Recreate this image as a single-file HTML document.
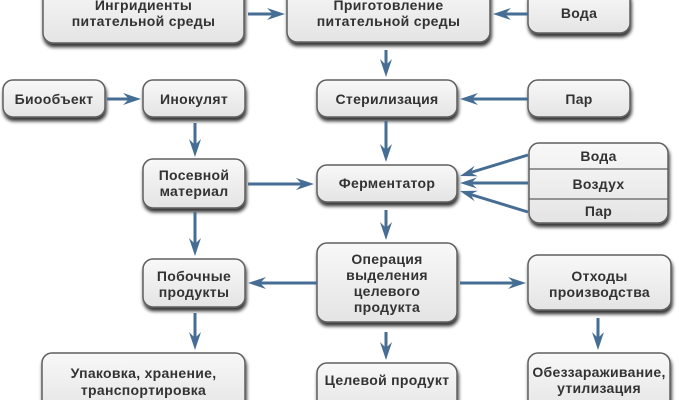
<!DOCTYPE html>
<html><head><meta charset="utf-8"><style>
html,body{margin:0;padding:0;background:#fff;}
svg{display:block;}
text{font-family:"Liberation Sans","DejaVu Sans",sans-serif;font-weight:bold;font-size:14px;fill:#333;letter-spacing:0.3px;}
</style></head><body>
<svg width="679" height="400" viewBox="0 0 679 400" xmlns="http://www.w3.org/2000/svg">
<defs>
<linearGradient id="g" x1="0" y1="0" x2="0" y2="1">
<stop offset="0" stop-color="#f8f8f8"/><stop offset="1" stop-color="#e4e4e4"/>
</linearGradient>
<filter id="sh" x="-20%" y="-20%" width="140%" height="150%">
<feGaussianBlur in="SourceAlpha" stdDeviation="1.8"/>
<feOffset dx="1" dy="3.5" result="b"/>
<feComponentTransfer><feFuncA type="linear" slope="0.8"/></feComponentTransfer>
<feMerge><feMergeNode/><feMergeNode in="SourceGraphic"/></feMerge>
</filter>
<g id="ah"><path d="M0,0 L-18,-6 L-12,0 L-18,6 Z" fill="#466d93"/></g>
<g id="ah2"><path d="M0,0 L-17,-5.5 L-11,0 L-17,5.5 Z" fill="#466d93"/></g>
</defs>

<g fill="url(#g)" stroke="#5f5f5f" stroke-width="1.5" filter="url(#sh)">
<rect x="43" y="-20" width="201" height="63" rx="10"/>
<rect x="287" y="-20" width="203" height="62" rx="10"/>
<rect x="528" y="-10" width="102" height="43" rx="10"/>
<rect x="3" y="80" width="102" height="37" rx="10"/>
<rect x="143" y="80" width="102" height="37" rx="10"/>
<rect x="317" y="80" width="140" height="37" rx="10"/>
<rect x="528" y="80" width="102" height="37" rx="10"/>
<rect x="143" y="159" width="102" height="49" rx="10"/>
<rect x="317" y="165" width="140" height="37" rx="10"/>
<rect x="529" y="143" width="139" height="80" rx="10"/>
<rect x="317" y="243" width="140" height="79" rx="10"/>
<rect x="143" y="259" width="102" height="48" rx="10"/>
<rect x="528" y="255" width="143" height="55" rx="10"/>
<rect x="42" y="353" width="203" height="62" rx="10"/>
<rect x="317" y="363" width="140" height="50" rx="10"/>
<rect x="528" y="353" width="142" height="62" rx="10"/>
</g>
<g stroke="#5f5f5f" stroke-width="1.2">
<line x1="529" y1="169" x2="668" y2="169"/>
<line x1="529" y1="199" x2="668" y2="199"/>
</g>

<g stroke="#466d93" stroke-width="3" fill="none">
<line x1="248" y1="14" x2="275" y2="14"/>
<line x1="528" y1="14" x2="503" y2="14"/>
<line x1="386" y1="50" x2="386" y2="67"/>
<line x1="107" y1="99" x2="130" y2="99"/>
<line x1="528" y1="99" x2="470" y2="99"/>
<line x1="195" y1="123" x2="195" y2="147"/>
<line x1="386" y1="121" x2="386" y2="152"/>
<line x1="248" y1="184" x2="303" y2="184"/>
<line x1="528" y1="155" x2="469" y2="173"/>
<line x1="528" y1="183" x2="469" y2="183"/>
<line x1="528" y1="212" x2="469" y2="194"/>
<line x1="195" y1="212" x2="195" y2="246"/>
<line x1="386" y1="210" x2="386" y2="230"/>
<line x1="317" y1="283" x2="258" y2="283"/>
<line x1="460" y1="283" x2="515" y2="283"/>
<line x1="195" y1="313" x2="195" y2="340"/>
<line x1="386" y1="332" x2="386" y2="350"/>
<line x1="598" y1="318" x2="598" y2="340"/>
</g>
<use href="#ah" transform="translate(285,14)"/>
<use href="#ah" transform="translate(493,14) rotate(180)"/>
<use href="#ah" transform="translate(386,77) rotate(90)"/>
<use href="#ah" transform="translate(141,99)"/>
<use href="#ah" transform="translate(460,99) rotate(180)"/>
<use href="#ah" transform="translate(195,157) rotate(90)"/>
<use href="#ah" transform="translate(386,162) rotate(90)"/>
<use href="#ah" transform="translate(314,184)"/>
<use href="#ah2" transform="translate(460,176) rotate(163)"/>
<use href="#ah2" transform="translate(460,183) rotate(180)"/>
<use href="#ah2" transform="translate(460,191) rotate(197)"/>
<use href="#ah" transform="translate(195,256) rotate(90)"/>
<use href="#ah" transform="translate(386,240) rotate(90)"/>
<use href="#ah" transform="translate(248,283) rotate(180)"/>
<use href="#ah" transform="translate(526,283)"/>
<use href="#ah" transform="translate(195,350) rotate(90)"/>
<use href="#ah" transform="translate(386,360) rotate(90)"/>
<use href="#ah" transform="translate(598,350) rotate(90)"/>

<g text-anchor="middle">
<text x="143.5" y="10">Ингридиенты</text>
<text x="143.5" y="26">питательной среды</text>
<text x="388.5" y="10">Приготовление</text>
<text x="388.5" y="26">питательной среды</text>
<text x="579" y="18">Вода</text>
<text x="54" y="104">Биообъект</text>
<text x="194" y="104">Инокулят</text>
<text x="387" y="104">Стерилизация</text>
<text x="579" y="104">Пар</text>
<text x="194" y="180">Посевной</text>
<text x="194" y="196">материал</text>
<text x="387" y="188">Ферментатор</text>
<text x="598.5" y="161">Вода</text>
<text x="598.5" y="189">Воздух</text>
<text x="598.5" y="216">Пар</text>
<text x="387" y="264">Операция</text>
<text x="387" y="280">выделения</text>
<text x="387" y="296">целевого</text>
<text x="387" y="312">продукта</text>
<text x="194" y="281">Побочные</text>
<text x="194" y="297">продукты</text>
<text x="599.5" y="281">Отходы</text>
<text x="599.5" y="297">производства</text>
<text x="143.5" y="378">Упаковка, хранение,</text>
<text x="143.5" y="395">транспортировка</text>
<text x="387" y="385">Целевой продукт</text>
<text x="599" y="377">Обеззараживание,</text>
<text x="599" y="393">утилизация</text>
</g>
</svg>
</body></html>
